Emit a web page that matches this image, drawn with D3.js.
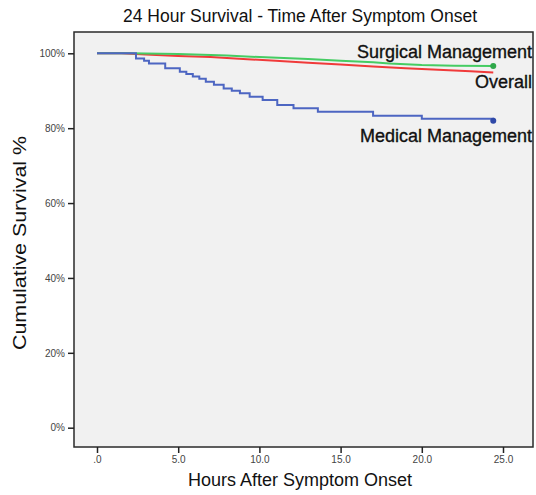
<!DOCTYPE html>
<html>
<head>
<meta charset="utf-8">
<script src="https://cdn.jsdelivr.net/npm/d3@7"></script>
<style>
  html, body { margin: 0; padding: 0; background: #ffffff; }
  svg { display: block; }
  text { font-family: "Liberation Sans", Arial, sans-serif; }
</style>
</head>
<body>
<svg id="chart" width="536" height="495"></svg>
<script>
// ---- Data ----
const titleText = "24 Hour Survival - Time After Symptom Onset";
const xLabel = "Hours After Symptom Onset";
const yLabel = "Cumulative Survival %";
const xTicks = [0, 5, 10, 15, 20, 25];
const xTickLabels = [".0", "5.0", "10.0", "15.0", "20.0", "25.0"];
const yTicks = [0, 20, 40, 60, 80, 100];
const yTickLabels = ["0%", "20%", "40%", "60%", "80%", "100%"];

// Overall (red)
const overallHours = [0, 1.5, 3, 5, 7, 9, 11, 13, 15, 17, 19, 21, 23, 24.4];
const overallPct   = [100, 100, 99.7, 99.3, 99.0, 98.5, 98.0, 97.5, 97.0, 96.5, 96.0, 95.6, 95.2, 94.9];

// Surgical Management (green)
const surgicalHours = [0, 2, 5, 8, 10, 13, 15, 17, 18, 20, 22, 24.4];
const surgicalPct   = [100, 100, 99.8, 99.4, 99.0, 98.5, 98.0, 97.6, 97.3, 96.9, 96.7, 96.6];

// Medical Management (blue, Kaplan-Meier steps)
const medicalHours = [0, 1.9, 2.4, 2.9, 3.2, 4.2, 5.1, 5.5, 5.9, 6.3, 6.7, 7.2, 7.8, 8.3, 8.8, 9.4, 10.2, 11.1, 12.1, 13.6, 17.0, 20.0, 24.4];
const medicalPct   = [100, 100, 98.6, 98.0, 97.3, 96.0, 95.1, 94.5, 93.8, 93.2, 92.4, 91.6, 90.6, 90.0, 89.3, 88.4, 87.5, 86.2, 85.3, 84.4, 83.3, 82.5, 82.0];

// ---- Layout ----
const svg = d3.select("#chart");
const frame = { left: 74, top: 32, right: 533, bottom: 447 };

const x = d3.scaleLinear().domain([0, 25]).range([97, 503]);
const y = d3.scaleLinear().domain([0, 100]).range([427.7, 53.3]);

// plot background
svg.append("rect")
  .attr("x", frame.left).attr("y", frame.top)
  .attr("width", frame.right - frame.left)
  .attr("height", frame.bottom - frame.top)
  .attr("fill", "#f1f1f1")
  .attr("stroke", "#2a2a2a").attr("stroke-width", 1.5);

// title
svg.append("text")
  .attr("x", 300).attr("y", 22)
  .attr("text-anchor", "middle")
  .attr("font-size", 17.5).attr("fill", "#111")
  .text(titleText);

// y axis ticks
const yAxis = d3.axisLeft(y).tickValues(yTicks)
  .tickFormat((d, i) => yTickLabels[i]).tickSize(6).tickPadding(3);
const gy = svg.append("g").attr("transform", `translate(${frame.left},0)`).call(yAxis);
gy.select(".domain").remove();
gy.selectAll(".tick line").attr("stroke", "#222").attr("stroke-width", 1.5);
gy.selectAll(".tick text").attr("font-size", 10).attr("fill", "#444")
  .attr("font-family", "'Liberation Sans', Arial, sans-serif");

// x axis ticks
const xAxis = d3.axisBottom(x).tickValues(xTicks)
  .tickFormat((d, i) => xTickLabels[i]).tickSize(6).tickPadding(3);
const gx = svg.append("g").attr("transform", `translate(0,${frame.bottom})`).call(xAxis);
gx.select(".domain").remove();
gx.selectAll(".tick line").attr("stroke", "#222").attr("stroke-width", 1.5);
gx.selectAll(".tick text").attr("font-size", 10).attr("fill", "#444")
  .attr("font-family", "'Liberation Sans', Arial, sans-serif");

// axis labels
svg.append("text")
  .attr("x", 300).attr("y", 486)
  .attr("text-anchor", "middle")
  .attr("font-size", 18).attr("fill", "#111")
  .text(xLabel);

svg.append("text")
  .attr("transform", "translate(26,243) rotate(-90)")
  .attr("text-anchor", "middle")
  .attr("font-size", 18).attr("fill", "#111")
  .attr("textLength", 214).attr("lengthAdjust", "spacingAndGlyphs")
  .text(yLabel);

// curves
const series = [
  { name: "Overall", hours: overallHours, pct: overallPct, color: "#f03a3a", step: false },
  { name: "Surgical Management", hours: surgicalHours, pct: surgicalPct, color: "#45cc63", step: false },
  { name: "Medical Management", hours: medicalHours, pct: medicalPct, color: "#4d66c2", step: true }
];

series.forEach(s => {
  const pts = s.hours.map((h, i) => [h, s.pct[i]]);
  const line = d3.line()
    .x(d => x(d[0])).y(d => y(d[1]))
    .curve(s.step ? d3.curveStepAfter : d3.curveLinear);
  svg.append("path")
    .datum(pts)
    .attr("fill", "none")
    .attr("stroke", s.color)
    .attr("stroke-width", 2)
    .attr("d", line);
});

// end markers (green and blue)
[series[1], series[2]].forEach(s => {
  const n = s.hours.length - 1;
  svg.append("circle")
    .attr("cx", x(s.hours[n])).attr("cy", y(s.pct[n]))
    .attr("r", 3).attr("fill", s.color === "#45cc63" ? "#2fa84a" : "#2f49a8");
});

// series labels
const labels = [
  { text: "Surgical Management", x: 532, y: 58 },
  { text: "Overall", x: 532, y: 88 },
  { text: "Medical Management", x: 532, y: 142 }
];
svg.selectAll(".lbl").data(labels).enter().append("text")
  .attr("class", "lbl")
  .attr("x", d => d.x).attr("y", d => d.y)
  .attr("text-anchor", "end")
  .attr("font-size", 18).attr("fill", "#111")
  .attr("stroke", "#111").attr("stroke-width", 0.35)
  .text(d => d.text);
</script>
</body>
</html>
